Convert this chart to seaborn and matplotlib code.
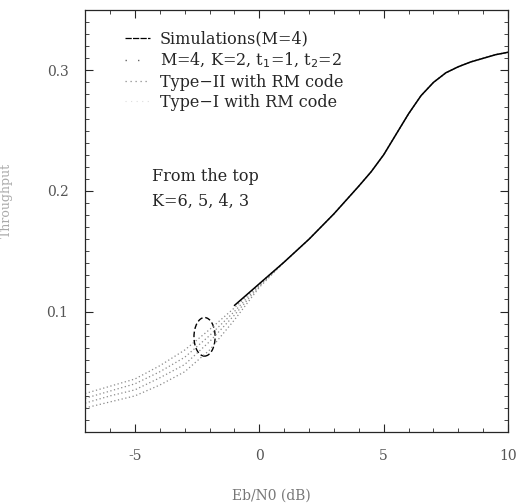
import pandas as pd
import numpy as np
import matplotlib
matplotlib.use("Agg")
import matplotlib.pyplot as plt
from matplotlib.lines import Line2D
from matplotlib.patches import Ellipse
from matplotlib.ticker import MultipleLocator
import seaborn as sns

sns.set_style("ticks")
plt.rcParams["font.family"] = ["DejaVu Serif"]

# Eb/N0 grid (dB)
snr = [-7, -6, -5, -4, -3, -2, -1, 0, 1, 2, 3, 4, 4.5, 5, 5.5, 6, 6.5, 7, 7.5, 8, 8.5, 9, 9.5, 10]

# high-SNR part where all curves coincide
tail = [0.141, 0.160, 0.181, 0.204, 0.216, 0.230, 0.247, 0.264, 0.279, 0.290, 0.298, 0.303, 0.307, 0.310, 0.313, 0.315]

# analysis curves, from the top K=6,5,4,3
k6 = [0.032, 0.038, 0.044, 0.055, 0.068, 0.085, 0.103, 0.123] + tail
k5 = [0.028, 0.034, 0.040, 0.050, 0.062, 0.080, 0.100, 0.122] + tail
k4 = [0.024, 0.030, 0.035, 0.045, 0.056, 0.075, 0.097, 0.121] + tail
k3 = [0.020, 0.025, 0.030, 0.039, 0.050, 0.068, 0.093, 0.120] + tail

# simulation (M=4)
sim_snr = snr[6:]
sim = [0.105, 0.123] + tail

# circled group of curves
circle_x = -2.2
circle_y = 0.079

n = len(snr)
model = pd.DataFrame({
    "snr": snr * 4,
    "thr": k6 + k5 + k4 + k3,
    "K": ["6"] * n + ["5"] * n + ["4"] * n + ["3"] * n,
})
sim_df = pd.DataFrame({"snr": sim_snr, "thr": sim})

fig = plt.figure(figsize=(5.19, 5.03), dpi=100)
ax = fig.add_axes([0.164, 0.141, 0.815, 0.839])

sns.lineplot(data=model, x="snr", y="thr", units="K", estimator=None,
             color="#8a8a8a", lw=0.9, linestyle=(0, (1, 2)), ax=ax, legend=False)
sns.lineplot(data=sim_df, x="snr", y="thr", color="black", lw=1.1, ax=ax, legend=False)

ax.add_patch(Ellipse((circle_x, circle_y), 0.85, 0.032, fill=False,
                     ec="black", lw=1.0, ls=(0, (4, 2))))

ax.set_xlim(-7, 10)
ax.set_ylim(0, 0.35)
ax.set_xticks([-5, 0, 5, 10])
ax.set_xticklabels(["-5", "0", "5", "10"])
ax.set_yticks([0.1, 0.2, 0.3])
ax.set_yticklabels(["0.1", "0.2", "0.3"])
ax.xaxis.set_minor_locator(MultipleLocator(1))
ax.yaxis.set_minor_locator(MultipleLocator(0.01))
ax.tick_params(which="both", direction="in", top=True, right=True)
ax.tick_params(which="major", length=6, labelsize=10, labelcolor="#555555", pad=12)
ax.tick_params(which="minor", length=3)
for s in ax.spines.values():
    s.set_linewidth(0.9)

ax.set_xlabel("Eb/N0 (dB)", fontsize=10, color="#777777")
ax.xaxis.set_label_coords(0.44, -0.135)
ax.set_ylabel("Throughput", fontsize=9, color="#aaaaaa")
ax.yaxis.set_label_coords(-0.17, 0.55)

handles = [
    Line2D([], [], color="black", lw=0.9, ls=(0, (5, 1))),
    Line2D([], [], color="#666666", lw=1.0, ls=(0, (1, 8))),
    Line2D([], [], color="#8a8a8a", lw=0.9, ls=(0, (1, 3))),
    Line2D([], [], color="#dddddd", lw=0.8, ls=(0, (1, 4))),
]
labels = [
    "Simulations(M=4)",
    "M=4, K=2, t$_1$=1, t$_2$=2",
    "Type\u2212II with RM code",
    "Type\u2212I with RM code",
]
ax.legend(handles, labels, loc="upper left", bbox_to_anchor=(0.06, 0.985),
          frameon=False, fontsize=11.5, handlelength=1.6, handletextpad=0.6,
          labelspacing=0.2)

ax.text(0.158, 0.595, "From the top", transform=ax.transAxes, fontsize=11.5)
ax.text(0.158, 0.535, "K=6, 5, 4, 3", transform=ax.transAxes, fontsize=11.5)

fig.savefig("out.png", dpi=100)
